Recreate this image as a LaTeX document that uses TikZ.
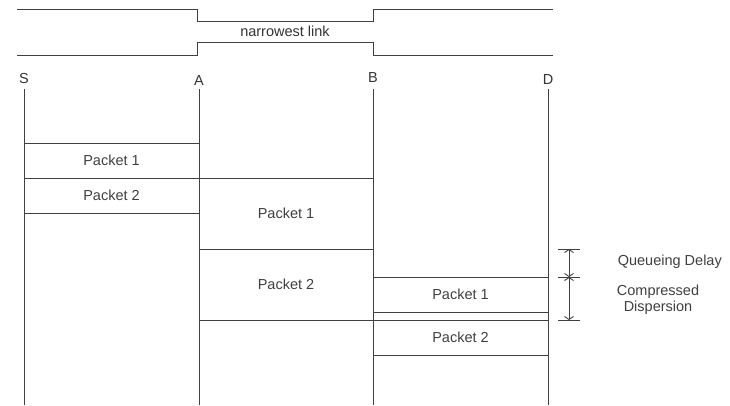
\documentclass[tikz,border=0pt]{standalone}
\usepackage{fontspec}
\setmainfont{Liberation Sans}
\usetikzlibrary{arrows.meta, positioning}

\begin{document}
\begin{tikzpicture}[
  x=1pt, y=-1pt,
  line width=1pt, draw=black!75,
  packet/.style={rectangle, draw=black!75, line width=1pt, minimum height=35pt, inner sep=0pt, outer sep=0pt, font=\fontsize{14.5}{17}\selectfont, text=black!75},
  hoplabel/.style={font=\fontsize{14.5}{17}\selectfont, text=black!80, inner sep=1pt},
  notestyle/.style={font=\fontsize{14.5}{16}\selectfont, text=black!75, align=center},
  dimarrow/.style={{Straight Barb[length=3pt,width=9pt]}-{Straight Barb[length=3pt,width=9pt]}, line width=0.9pt}
]
\useasboundingbox (0,0) rectangle (730,405);

% the link
\draw (17,9) -- (197,9) -- (197,21) -- (373,21) -- (373,9) -- (553,9);
\draw (17,55) -- (197,55) -- (197,42) -- (373,42) -- (373,55) -- (553,55);
\node[hoplabel, font=\fontsize{14.5}{17}\selectfont] (link) at (285,31) {narrowest link};

% hops
\node[hoplabel] (S) at (24,79) {S};
\node[hoplabel] (A) at (199,81) {A};
\node[hoplabel] (B) at (373,78) {B};
\node[hoplabel] (D) at (548,80) {D};

\coordinate (Stop) at (24,89);  \coordinate (Sbot) at (24,405);
\coordinate (Atop) at (199,89); \coordinate (Abot) at (199,405);
\coordinate (Btop) at (373,89); \coordinate (Bbot) at (373,405);
\coordinate (Dtop) at (548,89); \coordinate (Dbot) at (548,405);

\draw (Stop) -- (Sbot);
\draw (Atop) -- (Abot);
\draw (Btop) -- (Bbot);
\draw (Dtop) -- (Dbot);

% packets
\node[packet, minimum width=175pt] (SA1) at (111.5,160.5) {Packet 1};
\node[packet, minimum width=175pt] (SA2) at (111.5,195.5) {Packet 2};
\node[packet, minimum width=174pt, minimum height=71pt] (AB1) at (286,213.5) {Packet 1};
\node[packet, minimum width=174pt, minimum height=71pt] (AB2) at (286,284.5) {Packet 2};
\node[packet, minimum width=175pt] (BD1) at (460.5,294.5) {Packet 1};
\node[packet, minimum width=175pt] (BD2) at (460.5,337.5) {Packet 2};

% delay marks
\coordinate (q1) at (569,249);
\coordinate (q2) at (569,277);
\coordinate (q3) at (569,320);
\draw[line width=0.9pt] (558,249) -- (580,249);
\draw[line width=0.9pt] (558,277) -- (580,277);
\draw[line width=0.9pt] (558,320) -- (580,320);
\draw[dimarrow] (q1) -- (q2);
\draw[dimarrow] (q2) -- (q3);

\node[notestyle, anchor=west] (qd) at (614,262) {Queueing Delay};
\node[notestyle] (cd) at (658,300) {Compressed\\Dispersion};

\end{tikzpicture}
\end{document}
